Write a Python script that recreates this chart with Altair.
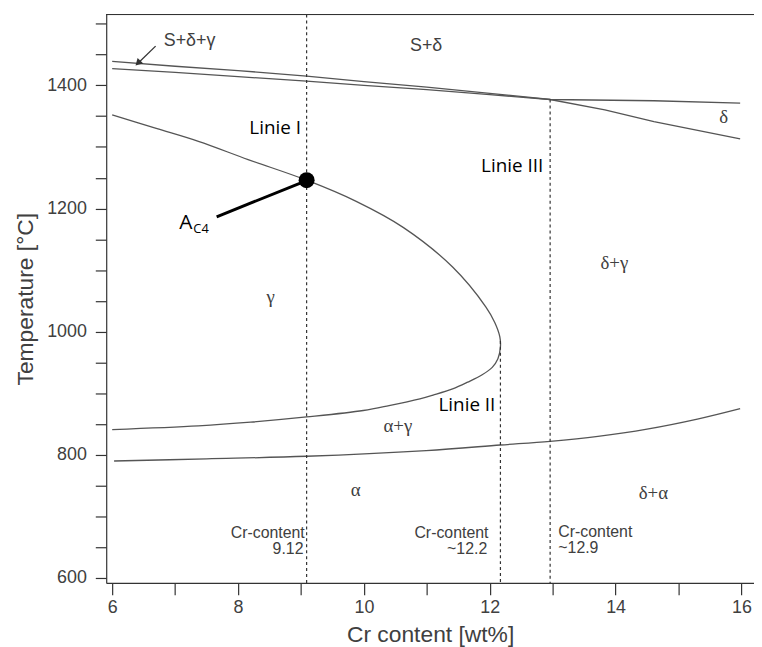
import altair as alt
import pandas as pd

# ---------------- data ----------------
# upper pair of boundary lines (S / S+delta / S+delta+gamma / delta)
line_a_x = [6.0, 7.0, 8.0, 9.09, 10.0, 11.0, 12.0, 12.96, 14.61, 15.98]
line_a_t = [1439, 1431, 1424, 1415, 1406, 1397, 1387, 1377, 1375, 1371]
line_b_left_x = [6.0, 7.0, 8.0, 9.09, 10.0, 11.0, 12.0, 12.96]
line_b_left_t = [1427, 1421, 1414, 1407, 1400, 1393, 1385, 1377]
line_b_right_x = [12.96, 13.83, 14.61, 15.98]
line_b_right_t = [1377, 1360, 1341, 1313]

# gamma loop (ordered along the curve)
loop_x = [6.0, 6.7, 7.37, 8.16, 9.09, 9.87, 10.63, 11.41, 11.94, 12.08, 12.16,
          12.17, 12.13, 12.04, 11.88, 11.65, 11.41, 11.1, 10.89, 10.4, 9.99, 9.09,
          8.2, 7.37, 6.0]
loop_t = [1352, 1330, 1309, 1279.5, 1246, 1212, 1169, 1105, 1040, 1015, 992,
          975, 956, 942, 930, 918, 907, 897, 891, 880, 872, 861.5,
          853, 847, 841]

# alpha / alpha+gamma boundary
alpha_x = [6.03, 7.5, 9.09, 10.99, 12.17, 12.96, 13.72, 14.5, 15.3, 15.98]
alpha_t = [790, 793.5, 797.7, 807, 816, 822, 830, 841.7, 858, 875]

# vertical dotted lines (Linie I, II, III)
vline_x = [9.09, 12.17, 12.96]
vline_top = [1515, 985, 1377]
vline_bottom = [592, 592, 592]

# A_C4 point and its leader line
ac4_x = [9.09]
ac4_t = [1246]
leader_x = [7.66, 9.0]
leader_t = [1186.5, 1241.8]

# arrow to S+delta+gamma band
arrow_x = [6.69, 6.41]
arrow_t = [1463.7, 1436]

# phase-region labels
serif_labels = ["γ", "δ+γ", "α+γ", "α", "δ+α", "δ"]
serif_x = [8.52, 13.98, 10.54, 9.87, 14.6, 15.72]
serif_t = [1056, 1112, 846.5, 743, 738.6, 1349]
sans_labels = ["S+δ+γ", "S+δ"]
sans_x = [7.23, 10.99]
sans_t = [1471.7, 1464]

linie_labels = ["Linie I", "Linie III", "Linie II"]
linie_x = [9.0, 12.85, 12.09]
linie_t = [1330, 1269.5, 881]

cr_right_labels = ["Cr-content", "9.12", "Cr-content", "~12.2"]
cr_right_x = [9.06, 9.04, 11.98, 11.96]
cr_right_t = [672.5, 646.7, 672.5, 646.7]
cr_left_labels = ["Cr-content", "~12.9"]
cr_left_x = [13.09, 13.09]
cr_left_t = [674, 648]

x_ticks = [6 + 0.5 * i for i in range(21)]
y_ticks = [600 + 50 * i for i in range(19)]

# ---------------- chart ----------------
W, H = 653, 573
AXIS_FONT = "Liberation Sans"
LINE_COLOR = "#555555"
TEXT_COLOR = "#404040"

x_scale = alt.Scale(domain=[5.905, 16.2], nice=False, zero=False)
y_scale = alt.Scale(domain=[592, 1515], nice=False, zero=False)

x_axis = alt.Axis(values=x_ticks, format="d",
                  labelExpr="datum.value % 2 === 0 ? datum.label : ''",
                  title="Cr content [wt%]", grid=False, tickSize=12, labelPadding=4,
                  labelFontSize=18, titleFontSize=23, titlePadding=7, labelOverlap=False,
                  labelFlush=False, titleFontWeight="normal")
y_axis = alt.Axis(values=y_ticks, format="d",
                  labelExpr="datum.value % 200 === 0 ? datum.label : ''",
                  title="Temperature [°C]", grid=False, tickSize=11, labelPadding=9,
                  labelFontSize=18, titleFontSize=23, titlePadding=9, labelOverlap=False,
                  labelFlush=False, titleFontWeight="normal")

X = alt.X("x:Q", scale=x_scale, axis=x_axis)
Y = alt.Y("T:Q", scale=y_scale, axis=y_axis)


def df(xs, ts, name=None, labels=None):
    d = pd.DataFrame({"x": xs, "T": ts})
    d["o"] = range(len(d))
    if name is not None:
        d["curve"] = name
    if labels is not None:
        d["label"] = labels
    return d


straight = pd.concat([df(line_a_x, line_a_t, "A"),
                      df(line_b_left_x, line_b_left_t, "B1"),
                      df(line_b_right_x, line_b_right_t, "B2")])
smooth = pd.concat([df(loop_x, loop_t, "loop"), df(alpha_x, alpha_t, "alpha")])

straight_layer = alt.Chart(straight).mark_line(color=LINE_COLOR, strokeWidth=1.3).encode(
    x=X, y=Y, detail="curve:N", order="o:Q")
smooth_layer = alt.Chart(smooth).mark_line(color=LINE_COLOR, strokeWidth=1.3,
                                           interpolate="catmull-rom").encode(
    x=X, y=Y, detail="curve:N", order="o:Q")

vdf = pd.DataFrame({"x": vline_x, "T": vline_top, "T2": vline_bottom})
vlines = alt.Chart(vdf).mark_rule(color="#333333", strokeWidth=1.2, strokeDash=[3, 3]).encode(
    x=X, y=Y, y2="T2:Q")

top_frame = alt.Chart(vdf).mark_rule(color="#333333", strokeWidth=1).encode(
    x=alt.value(0), x2=alt.value(W + 2), y=alt.value(0))

leader = alt.Chart(df(leader_x, leader_t)).mark_line(color="black", strokeWidth=3).encode(
    x=X, y=Y, order="o:Q")
dot = alt.Chart(df(ac4_x, ac4_t)).mark_point(filled=True, color="black", size=260,
                                             opacity=1).encode(x=X, y=Y)

arrow_line = alt.Chart(df(arrow_x, arrow_t)).mark_line(color="#333333", strokeWidth=1.3).encode(
    x=X, y=Y, order="o:Q")
arrow_head = alt.Chart(df(arrow_x[1:], arrow_t[1:])).mark_point(
    shape="triangle-up", angle=225, filled=True, color="#333333", size=65, opacity=1).encode(x=X, y=Y)

serif_text = alt.Chart(df(serif_x, serif_t, labels=serif_labels)).mark_text(
    font="Liberation Serif", fontSize=19, color=TEXT_COLOR, align="center", baseline="middle").encode(
    x=X, y=Y, text="label:N")
sans_text = alt.Chart(df(sans_x, sans_t, labels=sans_labels)).mark_text(
    font="Liberation Sans", fontSize=18, color=TEXT_COLOR, align="center", baseline="middle").encode(
    x=X, y=Y, text="label:N")
linie_text = alt.Chart(df(linie_x, linie_t, labels=linie_labels)).mark_text(
    font="Open Sans", fontSize=19, color="black", align="right", baseline="middle").encode(
    x=X, y=Y, text="label:N")
cr_right = alt.Chart(df(cr_right_x, cr_right_t, labels=cr_right_labels)).mark_text(
    font=AXIS_FONT, fontSize=16, color=TEXT_COLOR, align="right", baseline="middle").encode(
    x=X, y=Y, text="label:N")
cr_left = alt.Chart(df(cr_left_x, cr_left_t, labels=cr_left_labels)).mark_text(
    font=AXIS_FONT, fontSize=16, color=TEXT_COLOR, align="left", baseline="middle").encode(
    x=X, y=Y, text="label:N")

a_text = alt.Chart(df([7.17], [1167], labels=["A"])).mark_text(
    font="Open Sans", fontSize=21, color="black", align="center", baseline="alphabetic").encode(
    x=X, y=Y, text="label:N")
c4_text = alt.Chart(df([7.29], [1160.7], labels=["C4"])).mark_text(
    font="Open Sans", fontSize=13, color="black", align="left", baseline="alphabetic").encode(
    x=X, y=Y, text="label:N")

chart = alt.layer(
    straight_layer, smooth_layer, vlines, top_frame, leader, dot, arrow_line, arrow_head,
    serif_text, sans_text, linie_text, cr_right, cr_left, a_text, c4_text
).properties(
    width=W, height=H,
    padding={"left": 99, "top": 4, "right": 0, "bottom": 62},
    autosize=alt.AutoSizeParams(type="none"),
).configure_view(stroke="transparent").configure_axis(
    labelFont=AXIS_FONT, titleFont=AXIS_FONT, domainColor="#333333", tickColor="#333333",
    labelColor=TEXT_COLOR, titleColor=TEXT_COLOR, domainWidth=1.2, tickWidth=1.2,
)

chart.save("out.html", embed_options={"renderer": "svg", "actions": False})
